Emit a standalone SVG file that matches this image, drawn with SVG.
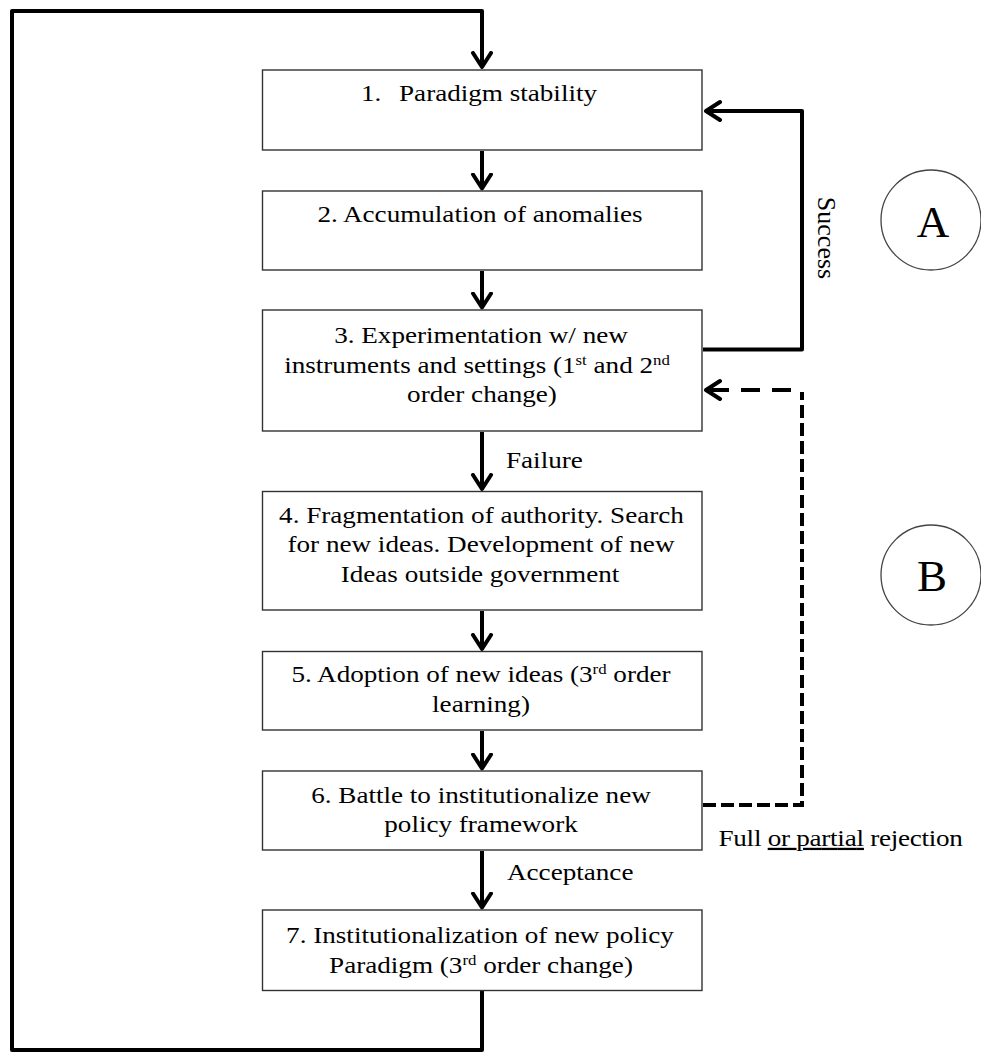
<svg xmlns="http://www.w3.org/2000/svg" width="981" height="1053" viewBox="0 0 981 1053">
<style>
.box{fill:#fff;stroke:#333;stroke-width:1.4}
.t{font-family:"Liberation Serif","Times New Roman",serif;font-size:22.6px;fill:#000}
.sup{font-size:14px}
.con{fill:none;stroke:#000;stroke-width:4;stroke-linejoin:round}
.dash{fill:none;stroke:#000;stroke-width:4;stroke-dasharray:13 5}
.circ{fill:#fff;stroke:#444;stroke-width:1.3}
.big{font-family:"Liberation Serif","Times New Roman",serif;font-size:45px;fill:#000}
</style>
<defs>
<marker id="ah" markerUnits="userSpaceOnUse" markerWidth="30" markerHeight="30" refX="16" refY="11" orient="auto">
<path d="M2,2 L16,11 L2,20" fill="none" stroke="#000" stroke-width="4" stroke-linecap="round" stroke-linejoin="round" stroke-dasharray="none"/>
</marker>
</defs>
<rect width="981" height="1053" fill="#fff"/>

<g id="connectors">
<path class="con" d="M482,990 V1050 H12 V11 H482 V67" marker-end="url(#ah)"/>
<path class="con" d="M482,151 V188.5" marker-end="url(#ah)"/>
<path class="con" d="M482,271 V307.5" marker-end="url(#ah)"/>
<path class="con" d="M482,432 V489" marker-end="url(#ah)"/>
<path class="con" d="M482,611 V649" marker-end="url(#ah)"/>
<path class="con" d="M482,731 V768.5" marker-end="url(#ah)"/>
<path class="con" d="M482,851 V907.5" marker-end="url(#ah)"/>
<path class="con" d="M703,349.5 H802 V111 H706" marker-end="url(#ah)"/>
<path class="dash" d="M703,805 H802 V392"/>
<path class="con" d="M791,390 H706" stroke-dasharray="19 12" marker-end="url(#ah)"/>
<text class="t" transform="translate(506,468) scale(1.2,1)">Failure</text>
<text class="t" transform="translate(507,880) scale(1.2,1)">Acceptance</text>
<text class="t" style="font-size:26px" text-anchor="middle" transform="translate(818,238) rotate(90)">Success</text>
<text class="t" transform="translate(718.5,846) scale(1.2,1)" textLength="203.7" lengthAdjust="spacing">Full <tspan text-decoration="underline">or partial</tspan> rejection</text>
</g>

<g id="n1">
<rect class="box" x="262.5" y="70" width="439.5" height="80"/>
<text class="t" transform="translate(361,100.5) scale(1.2,1)">1.<tspan x="31.7">Paradigm stability</tspan></text>
</g>

<g id="n2">
<rect class="box" x="262.5" y="191" width="439.5" height="79"/>
<text class="t" text-anchor="middle" transform="translate(480,221.5) scale(1.2,1)">2. Accumulation of anomalies</text>
</g>

<g id="n3">
<rect class="box" x="262.5" y="310" width="439.5" height="121"/>
<text class="t" text-anchor="middle" transform="translate(481,343) scale(1.2,1)">3. Experimentation w/ new</text>
<text class="t" text-anchor="middle" transform="translate(477,373) scale(1.2,1)">instruments and settings (1<tspan class="sup" dy="-8">st</tspan><tspan dy="8"> and 2</tspan><tspan class="sup" dy="-8">nd</tspan></text>
<text class="t" text-anchor="middle" transform="translate(482,402) scale(1.2,1)">order change)</text>
</g>

<g id="n4">
<rect class="box" x="262.5" y="491.5" width="439.5" height="118.5"/>
<text class="t" text-anchor="middle" transform="translate(481.5,523) scale(1.2,1)">4. Fragmentation of authority. Search</text>
<text class="t" text-anchor="middle" transform="translate(481,552) scale(1.2,1)">for new ideas. Development of new</text>
<text class="t" text-anchor="middle" transform="translate(480,581.5) scale(1.2,1)">Ideas outside government</text>
</g>

<g id="n5">
<rect class="box" x="262.5" y="651.5" width="439.5" height="78.5"/>
<text class="t" text-anchor="middle" transform="translate(481,681.5) scale(1.2,1)">5. Adoption of new ideas (3<tspan class="sup" dy="-8">rd</tspan><tspan dy="8"> order</tspan></text>
<text class="t" text-anchor="middle" transform="translate(481,711.5) scale(1.2,1)">learning)</text>
</g>

<g id="n6">
<rect class="box" x="262.5" y="771" width="439.5" height="79"/>
<text class="t" text-anchor="middle" transform="translate(481,803) scale(1.2,1)">6. Battle to institutionalize new</text>
<text class="t" text-anchor="middle" transform="translate(481,832) scale(1.2,1)">policy framework</text>
</g>

<g id="n7">
<rect class="box" x="262.5" y="910" width="439.5" height="80.5"/>
<text class="t" text-anchor="middle" transform="translate(480,943) scale(1.2,1)">7. Institutionalization of new policy</text>
<text class="t" text-anchor="middle" transform="translate(481,973) scale(1.2,1)">Paradigm (3<tspan class="sup" dy="-8">rd</tspan><tspan dy="8"> order change)</tspan></text>
</g>

<g id="circleA">
<circle class="circ" cx="931" cy="220" r="50"/>
<text class="big" text-anchor="middle" x="933" y="237">A</text>
</g>

<g id="circleB">
<circle class="circ" cx="931" cy="575" r="50"/>
<text class="big" text-anchor="middle" x="932" y="591">B</text>
</g>
</svg>
